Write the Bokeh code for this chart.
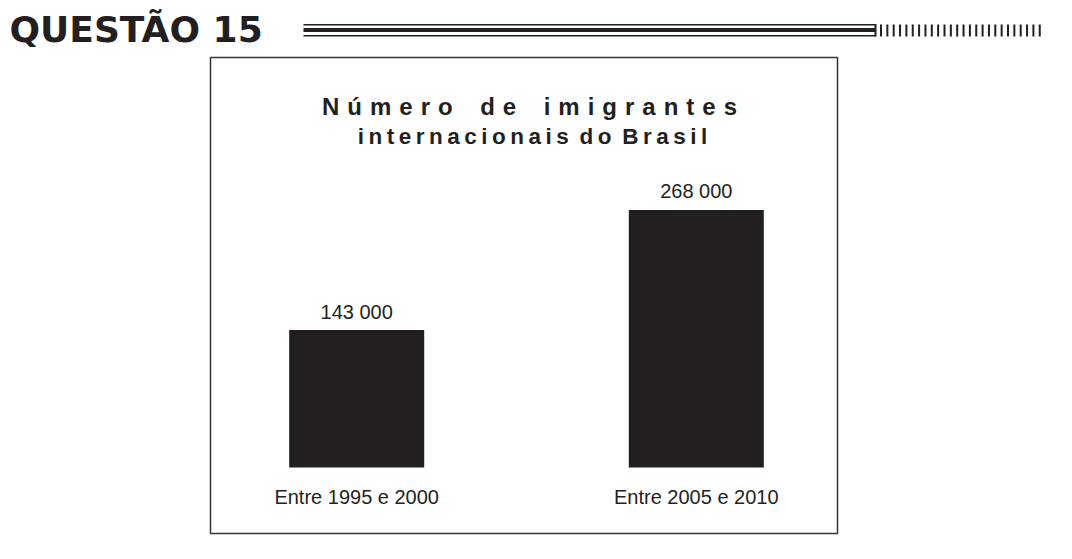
# Numero de imigrantes internacionais do Brasil - bar chart in a boxed panel

from bokeh.core.properties import value
from bokeh.embed import file_html
from bokeh.models import Range1d
from bokeh.plotting import figure
from bokeh.resources import INLINE

# Data
categories = ["Entre 1995 e 2000", "Entre 2005 e 2010"]
immigrants = [143000, 268000]
value_labels = [f"{v:,}".replace(",", " ") for v in immigrants]

heading = "QUESTÃO 15"
title_line1 = ["Número", "de", "imigrantes"]
title_line2 = ["internacionais", "do", "Brasil"]

INK = "#231f20"
FONT = value("Liberation Sans")

W, H = 1056, 543

# ranges in picture pixels, so the decoration sits where it does on the page
p = figure(
    width=W,
    height=H,
    x_range=Range1d(0, W),
    y_range=Range1d(H, 0),
    x_axis_type=None,
    y_axis_type=None,
    toolbar_location=None,
    output_backend="svg",
    min_border=0,
)
p.outline_line_color = None
p.background_fill_color = "white"
p.border_fill_color = "white"

# value scale for the bars: baseline at y=467, ~0.96 px per 1000
baseline = 467
px_per_unit = 0.000961
p.extra_y_ranges = {
    "val": Range1d(start=-(H - baseline) / px_per_unit, end=baseline / px_per_unit)
}
# category scale: first bar centred at x=356, bars 339.6 px apart
first_center, step = 356.2, 339.6
p.extra_x_ranges = {
    "cat": Range1d(start=-first_center / step, end=(W - first_center) / step)
}
idx = list(range(len(categories)))

# svg text sits ~0.35 em lower than the asked baseline, compensate
def base(y, size):
    return y - 0.35 * size

# Heading
p.text(
    x=[9], y=[base(42, 36)], text=[heading],
    text_font=value("DejaVu Sans"), text_font_size="36px", text_font_style="bold",
    text_color=INK, text_baseline="alphabetic", text_align="left",
)

# Triple rule after the heading, closed at the right end
rule_x0, rule_x1 = 303, 875
rule_y = [24.3, 29.5, 35.2]
p.segment(x0=[rule_x0] * 3, x1=[rule_x1] * 3, y0=rule_y, y1=rule_y,
          line_color=INK, line_width=[1.6, 4, 1.6])
p.segment(x0=[rule_x1], x1=[rule_x1], y0=[23.5], y1=[36], line_color=INK, line_width=2)

# little vertical stripes
n_stripes = 26
stripe_x = [880.5 + i * 6.35 for i in range(n_stripes)]
p.segment(x0=stripe_x, x1=stripe_x, y0=[24] * n_stripes, y1=[36] * n_stripes,
          line_color=INK, line_width=2)

# Panel box
p.quad(left=[210], right=[837], top=[57], bottom=[533],
       fill_color=None, line_color="#333333", line_width=1.5)

# Title (letter spaced)
ls1 = "\u2004"
line1 = (ls1 + " " + ls1 + "\u2009").join(ls1.join(w) for w in title_line1)
ls2 = "\u2009"
line2 = (ls2 + " ").join(ls2.join(w) for w in title_line2)
p.text(
    x=[529], y=[base(114.5, 24)], text=[line1],
    text_font=FONT, text_font_size="24px", text_font_style="bold",
    text_color=INK, text_baseline="alphabetic", text_align="center",
)
p.text(
    x=[532], y=[base(144.5, 23)], text=[line2],
    text_font=FONT, text_font_size="22.5px", text_font_style="bold",
    text_color=INK, text_baseline="alphabetic", text_align="center",
)

# Bars
p.vbar(x=idx, top=immigrants, bottom=0, width=135 / step,
       x_range_name="cat", y_range_name="val",
       fill_color=INK, line_color=None)

# Values over the bars
p.text(
    x=idx, y=immigrants, text=value_labels,
    x_range_name="cat", y_range_name="val", y_offset=-11.5 - 0.35 * 20,
    text_font=FONT, text_font_size="20px",
    text_color=INK, text_baseline="alphabetic", text_align="center",
)

# Category labels under the bars
p.text(
    x=idx, y=[0] * len(idx), text=categories,
    x_range_name="cat", y_range_name="val", y_offset=36 - 0.35 * 20,
    text_font=FONT, text_font_size="20px",
    text_color=INK, text_baseline="alphabetic", text_align="center",
)

open("out.html", "w").write(file_html(p, INLINE))
